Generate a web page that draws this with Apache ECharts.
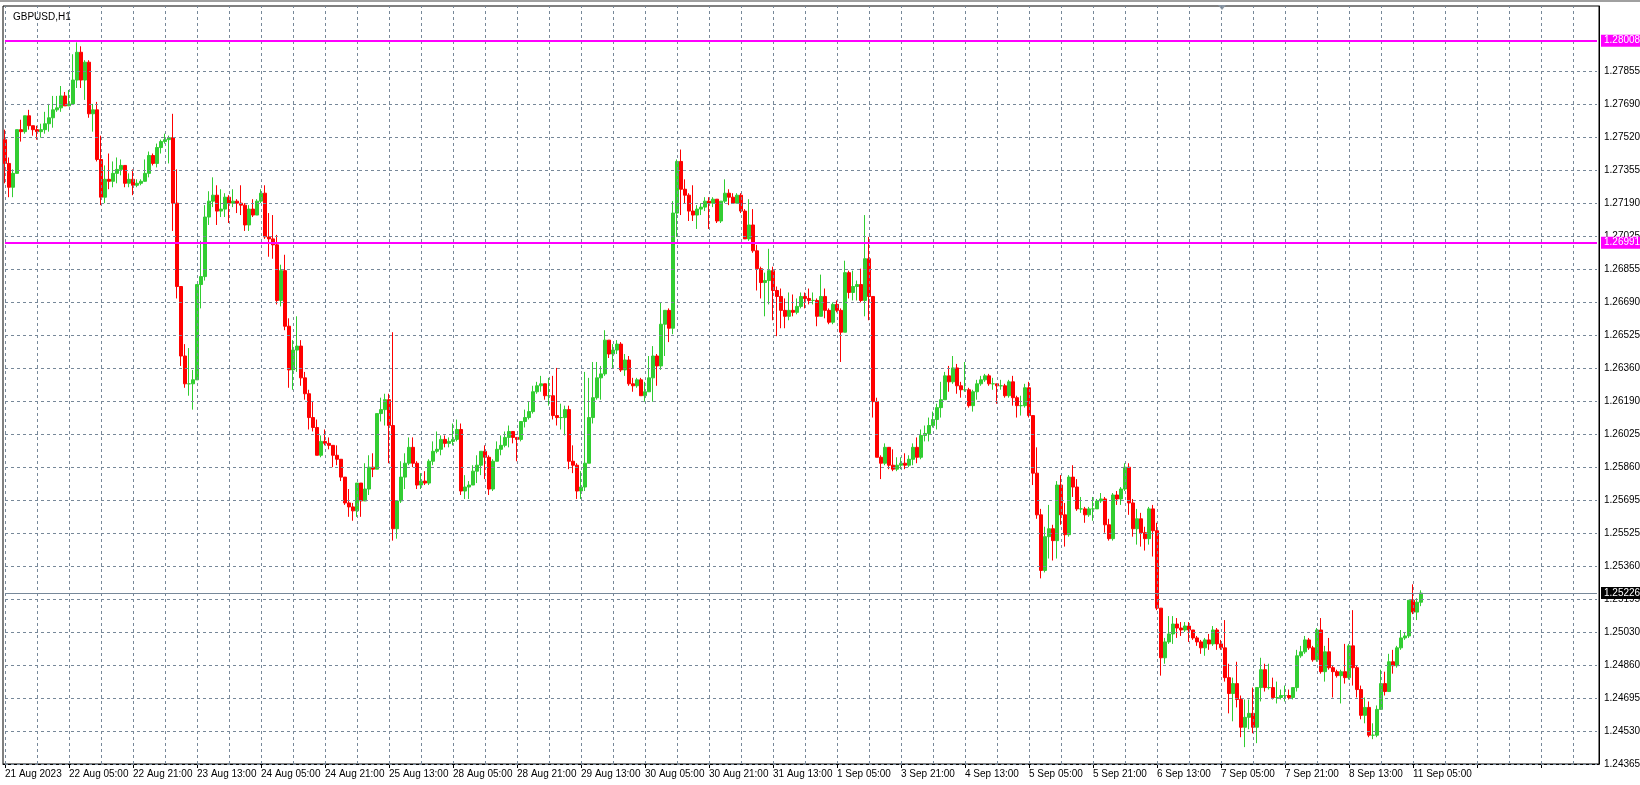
<!DOCTYPE html>
<html>
<head>
<meta charset="utf-8">
<script src="https://cdn.jsdelivr.net/npm/echarts@6/dist/echarts.min.js"></script>
<style>
html,body{margin:0;padding:0;background:#fff;overflow:hidden;}
#chart-container{width:1640px;height:785px;}
</style>
</head>
<body>
<div id="chart-container"></div>
<script>
// GBPUSD H1, one entry per candle; open is taken from the previous close
var firstOpen = 1.2751;
var closes = [
1.2739,1.2727,1.2734,1.2756,1.2755,1.2763,1.2758,1.2756,1.2755,1.2756,
1.2759,1.2762,1.2766,1.2767,1.2773,1.2768,1.2769,1.2781,1.2795,1.2781,
1.2790,1.2764,1.2766,1.2741,1.2722,1.2731,1.2730,1.2734,1.2736,1.2738,
1.2729,1.2731,1.2728,1.2729,1.2730,1.2734,1.2743,1.2739,1.2747,1.2750,
1.2751,1.2752,1.2719,1.2677,1.2642,1.2628,1.2628,1.2630,1.2678,1.2682,
1.2712,1.2720,1.2723,1.2715,1.2716,1.2722,1.2719,1.2720,1.2719,1.2718,
1.2708,1.2716,1.2713,1.2720,1.2724,1.2702,1.2701,1.2698,1.2670,1.2685,
1.2657,1.2635,1.2645,1.2647,1.2631,1.2623,1.2611,1.2606,1.2592,1.2599,
1.2598,1.2597,1.2592,1.2590,1.2581,1.2568,1.2566,1.2564,1.2578,1.2569,
1.2575,1.2586,1.2585,1.2613,1.2615,1.2620,1.2607,1.2555,1.2569,1.2581,
1.2588,1.2596,1.2588,1.2577,1.2579,1.2578,1.2589,1.2594,1.2595,1.2600,
1.2598,1.2599,1.2600,1.2605,1.2574,1.2576,1.2577,1.2584,1.2587,1.2594,
1.2591,1.2575,1.2589,1.2595,1.2597,1.2601,1.2604,1.2601,1.2600,1.2609,
1.2611,1.2614,1.2624,1.2627,1.2628,1.2622,1.2622,1.2612,1.2611,1.2611,
1.2615,1.2589,1.2587,1.2574,1.2576,1.2588,1.2611,1.2621,1.2631,1.2633,
1.2650,1.2643,1.2645,1.2648,1.2635,1.2640,1.2628,1.2627,1.2630,1.2622,
1.2624,1.2631,1.2642,1.2637,1.2658,1.2665,1.2656,1.2714,1.2740,1.2726,
1.2723,1.2715,1.2713,1.2716,1.2717,1.2720,1.2719,1.2721,1.2710,1.2720,
1.2724,1.2722,1.2719,1.2723,1.2715,1.2701,1.2708,1.2695,1.2686,1.2679,
1.2680,1.2685,1.2675,1.2672,1.2665,1.2662,1.2665,1.2664,1.2667,1.2672,
1.2671,1.2670,1.2670,1.2662,1.2672,1.2665,1.2659,1.2668,1.2665,1.2654,
1.2684,1.2674,1.2677,1.2678,1.2670,1.2691,1.2672,1.2619,1.2591,1.2588,
1.2596,1.2587,1.2585,1.2587,1.2588,1.2587,1.2590,1.2596,1.2591,1.2602,
1.2603,1.2607,1.2610,1.2616,1.2620,1.2632,1.2629,1.2636,1.2627,1.2625,
1.2625,1.2617,1.2624,1.2628,1.2630,1.2632,1.2628,1.2628,1.2627,1.2627,
1.2622,1.2629,1.2621,1.2617,1.2617,1.2626,1.2612,1.2583,1.2562,1.2534,
1.2551,1.2555,1.2549,1.2577,1.2562,1.2552,1.2581,1.2576,1.2565,1.2565,
1.2562,1.2565,1.2565,1.2569,1.2570,1.2557,1.2550,1.2572,1.2570,1.2575,
1.2586,1.2568,1.2555,1.2560,1.2553,1.2550,1.2565,1.2554,1.2515,1.2490,
1.2498,1.2502,1.2507,1.2505,1.2504,1.2506,1.2504,1.2500,1.2498,1.2495,
1.2499,1.2497,1.2504,1.2497,1.2495,1.2480,1.2472,1.2477,1.2469,1.2455,
1.2460,1.2462,1.2455,1.2475,1.2484,1.2475,1.2475,1.2470,1.2470,1.2471,
1.2471,1.2470,1.2475,1.2491,1.2493,1.2499,1.2495,1.2489,1.2504,1.2483,
1.2493,1.2485,1.2483,1.2481,1.2483,1.2480,1.2496,1.2485,1.2474,1.2461,
1.2465,1.2451,1.2451,1.2464,1.2477,1.2473,1.2488,1.2486,1.2495,1.2500,
1.2501,1.2519,1.2513,1.2518,1.25226
];
var highs = [
1.2756,1.2742,1.2736,1.2756,1.2761,1.2763,1.2766,1.2758,1.2758,1.2759,
1.2765,1.2769,1.2773,1.2773,1.2778,1.2775,1.2776,1.2794,1.2800,1.2798,
1.2791,1.2791,1.2769,1.2770,1.2753,1.2738,1.2744,1.2740,1.2742,1.2741,
1.2738,1.2734,1.2736,1.2731,1.2731,1.2741,1.2745,1.2744,1.2749,1.2751,
1.2754,1.2753,1.2764,1.2736,1.2677,1.2648,1.2646,1.2635,1.2678,1.2700,
1.2718,1.2725,1.2732,1.2728,1.2726,1.2724,1.2723,1.2726,1.2721,1.2728,
1.2719,1.2718,1.2721,1.2721,1.2726,1.2728,1.2714,1.2713,1.2703,1.2688,
1.2693,1.2661,1.2650,1.2662,1.2650,1.2634,1.2625,1.2619,1.2610,1.2602,
1.2605,1.2601,1.2597,1.2597,1.2590,1.2581,1.2575,1.2568,1.2578,1.2578,
1.2588,1.2592,1.2593,1.2613,1.2621,1.2623,1.2623,1.2654,1.2569,1.2589,
1.2593,1.2601,1.2601,1.2589,1.2583,1.2584,1.2590,1.2599,1.2604,1.2602,
1.2602,1.2601,1.2608,1.2610,1.2608,1.2582,1.2579,1.2587,1.2592,1.2594,
1.2597,1.2592,1.2590,1.2599,1.2602,1.2604,1.2607,1.2604,1.2601,1.2609,
1.2615,1.2619,1.2627,1.2629,1.2632,1.2628,1.2631,1.2632,1.2636,1.2618,
1.2617,1.2617,1.2597,1.2588,1.2584,1.2634,1.2631,1.2639,1.2639,1.2637,
1.2655,1.2650,1.2648,1.2650,1.2649,1.2643,1.2642,1.2631,1.2631,1.2631,
1.2629,1.2642,1.2647,1.2643,1.2669,1.2665,1.2666,1.2720,1.2741,1.2746,
1.2731,1.2724,1.2728,1.2718,1.2719,1.2722,1.2722,1.2722,1.2721,1.2720,
1.2731,1.2726,1.2724,1.2724,1.2724,1.2716,1.2721,1.2716,1.2698,1.2687,
1.2684,1.2696,1.2687,1.2677,1.2676,1.2671,1.2674,1.2673,1.2671,1.2674,
1.2674,1.2676,1.2674,1.2671,1.2683,1.2676,1.2666,1.2669,1.2670,1.2666,
1.2690,1.2685,1.2685,1.2680,1.2686,1.2713,1.2702,1.2672,1.2621,1.2592,
1.2598,1.2596,1.2595,1.2591,1.2591,1.2593,1.2592,1.2598,1.2601,1.2605,
1.2607,1.2611,1.2614,1.2618,1.2629,1.2634,1.2637,1.2642,1.2638,1.2629,
1.2639,1.2626,1.2625,1.2630,1.2632,1.2633,1.2633,1.2631,1.2628,1.2630,
1.2628,1.2630,1.2632,1.2622,1.2622,1.2628,1.2629,1.2612,1.2596,1.2565,
1.2556,1.2567,1.2557,1.2579,1.2582,1.2568,1.2582,1.2587,1.2580,1.2571,
1.2566,1.2566,1.2571,1.2570,1.2573,1.2571,1.2560,1.2573,1.2574,1.2576,
1.2588,1.2588,1.2570,1.2565,1.2563,1.2556,1.2566,1.2567,1.2558,1.2515,
1.2500,1.2511,1.2511,1.2510,1.2508,1.2508,1.2508,1.2504,1.2501,1.2499,
1.2500,1.2502,1.2506,1.2505,1.2499,1.2509,1.2487,1.2480,1.2488,1.2471,
1.2469,1.2469,1.2475,1.2475,1.2490,1.2487,1.2487,1.2480,1.2478,1.2474,
1.2476,1.2474,1.2475,1.2494,1.2496,1.2501,1.2500,1.2496,1.2505,1.2510,
1.2496,1.2500,1.2486,1.2484,1.2484,1.2497,1.2497,1.2514,1.2486,1.2476,
1.2470,1.2468,1.2457,1.2466,1.2484,1.2483,1.2492,1.2494,1.2496,1.2504,
1.2503,1.2519,1.2527,1.2520,1.2524
];
var lows = [
1.2729,1.2722,1.2722,1.2734,1.2750,1.2754,1.2756,1.2753,1.2751,1.2752,
1.2754,1.2755,1.2757,1.2765,1.2765,1.2768,1.2768,1.2769,1.2777,1.2777,
1.2771,1.2762,1.2755,1.2740,1.2718,1.2719,1.2726,1.2727,1.2729,1.2733,
1.2727,1.2727,1.2723,1.2727,1.2728,1.2732,1.2732,1.2738,1.2737,1.2744,
1.2749,1.2739,1.2705,1.2671,1.2637,1.2626,1.2622,1.2615,1.2630,1.2666,
1.2680,1.2708,1.2717,1.2708,1.2712,1.2712,1.2709,1.2717,1.2714,1.2713,
1.2705,1.2705,1.2712,1.2713,1.2719,1.2701,1.2692,1.2691,1.2668,1.2667,
1.2655,1.2626,1.2625,1.2634,1.2627,1.2620,1.2605,1.2604,1.2592,1.2591,
1.2597,1.2595,1.2586,1.2587,1.2579,1.2567,1.2561,1.2559,1.2561,1.2561,
1.2569,1.2572,1.2581,1.2585,1.2609,1.2607,1.2588,1.2549,1.2550,1.2568,
1.2575,1.2587,1.2586,1.2575,1.2575,1.2577,1.2577,1.2587,1.2593,1.2592,
1.2596,1.2596,1.2597,1.2599,1.2572,1.2570,1.2570,1.2577,1.2578,1.2582,
1.2580,1.2572,1.2574,1.2589,1.2592,1.2596,1.2596,1.2598,1.2589,1.2599,
1.2606,1.2610,1.2613,1.2623,1.2624,1.2620,1.2617,1.2610,1.2607,1.2605,
1.2602,1.2585,1.2583,1.2570,1.2570,1.2574,1.2588,1.2608,1.2620,1.2620,
1.2632,1.2641,1.2636,1.2643,1.2634,1.2632,1.2627,1.2624,1.2626,1.2622,
1.2619,1.2624,1.2619,1.2627,1.2635,1.2642,1.2649,1.2653,1.2702,1.2713,
1.2719,1.2710,1.2710,1.2706,1.2713,1.2715,1.2706,1.2717,1.2709,1.2709,
1.2719,1.2718,1.2719,1.2719,1.2714,1.2701,1.2700,1.2694,1.2675,1.2671,
1.2662,1.2668,1.2660,1.2652,1.2656,1.2656,1.2660,1.2662,1.2663,1.2666,
1.2666,1.2668,1.2668,1.2657,1.2662,1.2661,1.2658,1.2658,1.2664,1.2639,
1.2654,1.2671,1.2670,1.2670,1.2669,1.2662,1.2660,1.2611,1.2591,1.2580,
1.2587,1.2585,1.2584,1.2584,1.2585,1.2585,1.2586,1.2587,1.2588,1.2590,
1.2599,1.2599,1.2606,1.2605,1.2611,1.2620,1.2624,1.2628,1.2623,1.2621,
1.2624,1.2616,1.2614,1.2620,1.2627,1.2629,1.2627,1.2625,1.2618,1.2625,
1.2621,1.2621,1.2617,1.2611,1.2612,1.2616,1.2611,1.2577,1.2560,1.2530,
1.2533,1.2540,1.2539,1.2540,1.2557,1.2546,1.2551,1.2571,1.2564,1.2563,
1.2558,1.2561,1.2559,1.2565,1.2568,1.2553,1.2549,1.2549,1.2567,1.2567,
1.2574,1.2562,1.2551,1.2547,1.2546,1.2544,1.2547,1.2541,1.2514,1.2481,
1.2487,1.2497,1.2497,1.2500,1.2501,1.2503,1.2498,1.2499,1.2496,1.2492,
1.2491,1.2494,1.2496,1.2494,1.2494,1.2478,1.2462,1.2458,1.2465,1.2450,
1.2445,1.2454,1.2452,1.2447,1.2468,1.2473,1.2474,1.2469,1.2467,1.2469,
1.2468,1.2469,1.2469,1.2473,1.2490,1.2492,1.2494,1.2488,1.2488,1.2482,
1.2478,1.2484,1.2470,1.2480,1.2467,1.2477,1.2479,1.2476,1.2470,1.2459,
1.2457,1.2450,1.2449,1.2450,1.2464,1.2471,1.2474,1.2482,1.2485,1.2494,
1.2499,1.2500,1.2512,1.2509,1.2516
];
// time axis labels, one every 16 bars
var timeLabels = ['21 Aug 2023','22 Aug 05:00','22 Aug 21:00','23 Aug 13:00','24 Aug 05:00','24 Aug 21:00',
    '25 Aug 13:00','28 Aug 05:00','28 Aug 21:00','29 Aug 13:00','30 Aug 05:00','30 Aug 21:00','31 Aug 13:00',
    '1 Sep 05:00','3 Sep 21:00','4 Sep 13:00','5 Sep 05:00','5 Sep 21:00','6 Sep 13:00','7 Sep 05:00',
    '7 Sep 21:00','8 Sep 13:00','11 Sep 05:00'];
var priceTicks = ['1.27855','1.27690','1.27520','1.27355','1.27190','1.27025','1.26855','1.26690','1.26525',
    '1.26360','1.26190','1.26025','1.25860','1.25695','1.25525','1.25360','1.25195','1.25030','1.24860',
    '1.24695','1.24530','1.24365'];
var levelLines = [1.28008, 1.26991];
var bidPrice = 1.25226;

var slots = 399;
var cats = [];
for (var i = 0; i < slots; i++) cats.push(i);

var ohlc = [];
var prev = firstOpen;
for (var i = 0; i < closes.length; i++) {
    ohlc.push([prev, closes[i], lows[i], highs[i]]);
    prev = closes[i];
}

var font = 'Liberation Sans';
var fs = 10;
var gridDash = {color: '#778899', type: [3, 3], width: 1};

// vertical grid every 8 bars
var vLines = [];
for (var k = 0; k < slots; k += 8) vLines.push({xAxis: k});

// horizontal grid at the price ticks, label at the right
var hLines = priceTicks.map(function (t) {
    var v = parseFloat(t);
    return [{coord: [0, v], name: t}, {coord: [slots - 1, v]}];
});

function hLevel(v, color, bg, width) {
    return [{coord: [0, v], name: v.toFixed(5),
        lineStyle: {color: color, type: 'solid', width: width},
        label: {show: true, position: 'end', formatter: '{b}', color: '#fff', backgroundColor: bg,
            fontFamily: font, fontSize: fs, padding: [1, 3], distance: 4}},
        {coord: [slots - 1, v]}];
}
var levelData = [hLevel(bidPrice, '#778899', '#000', 1)];
levelLines.forEach(function (v) { levelData.push(hLevel(v, '#ff00ff', '#ff00ff', 2)); });

var option = {
    backgroundColor: '#fff',
    animation: false,
    grid: {left: 3, right: 41, top: 6, bottom: 21, show: true, borderColor: '#000', borderWidth: 1},
    title: {text: 'GBPUSD,H1', left: 8, top: 7, textStyle: {fontSize: fs, fontWeight: 'normal', color: '#000', fontFamily: font}},
    xAxis: {
        type: 'category', data: cats, boundaryGap: true,
        axisLine: {lineStyle: {color: '#000'}},
        axisTick: {show: true, interval: 15, alignWithLabel: true, length: 4, lineStyle: {color: '#000'}},
        axisLabel: {
            interval: 15, showMinLabel: true, align: 'left', margin: 5, color: '#000', fontFamily: font, fontSize: fs,
            formatter: function (v, idx) { return timeLabels[idx / 16] || ''; }
        },
        splitLine: {show: false}
    },
    yAxis: {
        type: 'value', position: 'right', min: 1.24365, max: 1.28183, scale: true,
        axisLine: {show: true, lineStyle: {color: '#000'}}, axisTick: {show: false},
        axisLabel: {show: false}, splitLine: {show: false}
    },
    series: [
        {
            type: 'line', data: [], silent: true,
            markLine: {silent: true, symbol: 'none', animation: false, lineStyle: gridDash,
                label: {show: false}, data: vLines}
        },
        {
            type: 'line', data: [], silent: true,
            markLine: {silent: true, symbol: 'none', animation: false, lineStyle: gridDash,
                label: {show: true, position: 'end', formatter: '{b}', color: '#000', fontFamily: font, fontSize: fs, distance: 7},
                data: hLines}
        },
        {
            type: 'candlestick',
            data: ohlc,
            barWidth: 3,
            itemStyle: {color: '#32cd32', color0: '#ff0000', borderColor: '#32cd32', borderColor0: '#ff0000', borderWidth: 1}
        },
        {
            type: 'line', data: [], silent: true, z: 5,
            markLine: {silent: true, symbol: 'none', animation: false, data: levelData}
        }
    ],
    graphic: [
        {type: 'polygon', shape: {points: [[1218, 5], [1226, 5], [1222, 10]]}, style: {fill: '#8a96a3'}},
        {type: 'rect', shape: {x: 0, y: 0, width: 1640, height: 2}, style: {fill: '#a0a0a0'}}
    ]
};
var myChart = echarts.init(document.getElementById('chart-container'));
myChart.setOption(option);
</script>
</body>
</html>
